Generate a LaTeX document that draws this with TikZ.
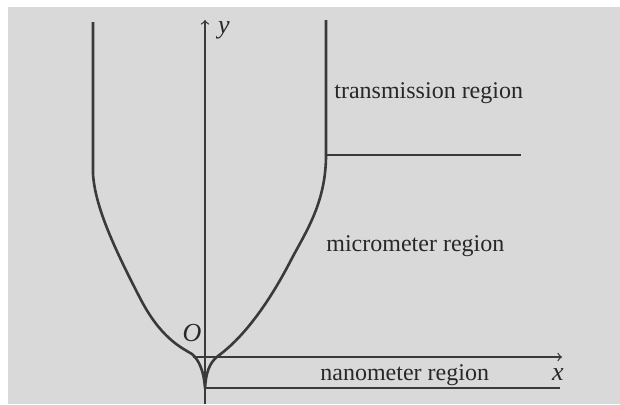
\documentclass[tikz,border=0pt]{standalone}
\usepackage{fontspec}
\setmainfont{Liberation Serif}
\usetikzlibrary{positioning}
\definecolor{scanpaper}{RGB}{217,217,217}
\definecolor{inkline}{RGB}{58,58,58}
\definecolor{inktext}{RGB}{40,40,40}

\begin{document}
\begin{tikzpicture}[
    x = 0.5pt, y = -0.5pt,
    profile/.style = { draw = inkline, line width = 1.3pt, line join = round },
    axis/.style = { draw = inkline, line width = 0.65pt, -> , >= to },
    rule/.style = { draw = inkline, line width = 0.7pt },
    region/.style = { text = inktext, font = \fontsize{12}{14}\selectfont,
      inner sep = 0pt, anchor = west },
    letter/.style = { text = inktext, font = \itshape\fontsize{13}{14}\selectfont,
      inner sep = 0pt }
  ]
  \useasboundingbox (0,0) rectangle (620,404);
  \fill [white] (0,0) rectangle (620,404);
  \fill [scanpaper] (8,7) rectangle (620,404);

  % axes
  \coordinate (ybot)   at (205,404);
  \coordinate (ytop)   at (205,20);
  \coordinate (xleft)  at (193,357);
  \coordinate (xright) at (562,357);
  \draw [axis] (ybot) -- (ytop);
  \draw [axis] (xleft) -- (xright);
  \node [letter] (ylab) at (224,30) {y};
  \node [letter] (xlab) at (558,375) {x};
  \node [letter] (olab) at (192,333) {O};

  % region boundaries
  \coordinate (tip)     at (205,388);
  \coordinate (tipend)  at (560,388);
  \coordinate (bend)    at (326,158);
  \coordinate (bendend) at (521,155);
  \draw [rule] (tip) -- (tipend);
  \draw [rule] (326,155) -- (bendend);

  % profile
  \draw [profile] (93,22) -- (93,174)
    .. controls (95,205) and (112,244) .. (140,298)
    .. controls (160,337) and (180,347) .. (192,354)
    .. controls (200,361) and (204,373) .. (tip)
    .. controls (206,373) and (209,363) .. (218,356)
    .. controls (240,340) and (265,310) .. (290,262)
    .. controls (305,233) and (325,205) .. (bend)
    -- (326,20);

  % labels
  \node [region] (trans) at (334,93)  {transmission region};
  \node [region] (micro) at (326,246) {micrometer region};
  \node [region] (nano)  at (320,375) {nanometer region};
\end{tikzpicture}
\end{document}
